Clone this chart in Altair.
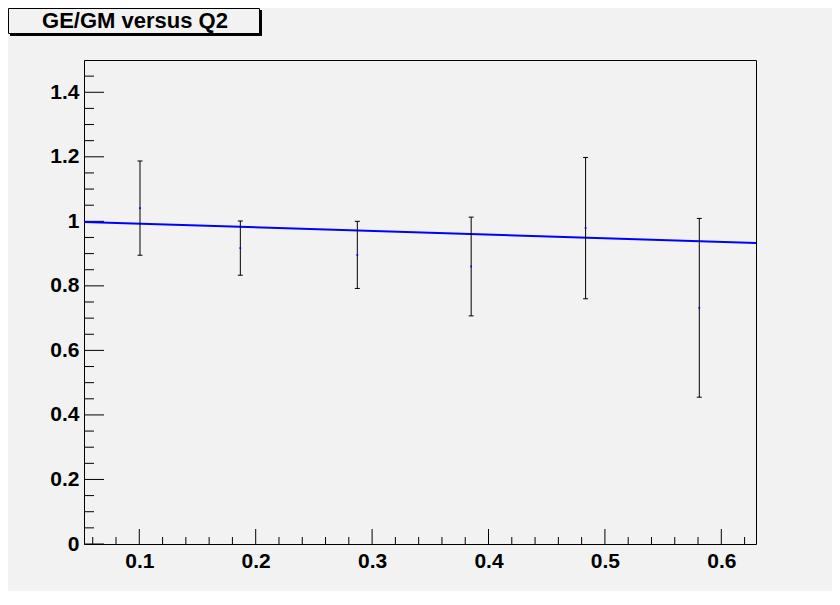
import altair as alt
import pandas as pd

# ---- data ----
q2 = [0.1006, 0.1868, 0.2873, 0.3851, 0.4834, 0.5811]
ratio = [1.041, 0.917, 0.896, 0.860, 0.979, 0.732]
err = [0.146, 0.084, 0.104, 0.153, 0.219, 0.277]

fit_q2 = [0.0525, 0.6298]
fit_ratio = [0.998, 0.933]

x_major = [0.1, 0.2, 0.3, 0.4, 0.5, 0.6]
x_minor = [0.06, 0.08, 0.12, 0.14, 0.16, 0.18, 0.22, 0.24, 0.26, 0.28,
           0.32, 0.34, 0.36, 0.38, 0.42, 0.44, 0.46, 0.48, 0.52, 0.54,
           0.56, 0.58, 0.62]
y_major = [0, 0.2, 0.4, 0.6, 0.8, 1.0, 1.2, 1.4]
y_minor = [0.05, 0.1, 0.15, 0.25, 0.3, 0.35, 0.45, 0.5, 0.55, 0.65, 0.7,
           0.75, 0.85, 0.9, 0.95, 1.05, 1.1, 1.15, 1.25, 1.3, 1.35, 1.45]

title_text = "GE/GM versus Q2"

# ---- layout ----
W, H = 672, 484
PAD = {"left": 76, "top": 52, "right": 76, "bottom": 47}
FONT = "Liberation Sans"
BG = "#f2f2f2"

pts = pd.DataFrame({"q2": q2, "ratio": ratio, "err": err})
pts["lo"] = pts["ratio"] - pts["err"]
pts["hi"] = pts["ratio"] + pts["err"]
fit = pd.DataFrame({"q2": fit_q2, "ratio": fit_ratio})

xs = alt.Scale(domain=[0.0525, 0.6298], nice=False, zero=False)
ys = alt.Scale(domain=[0, 1.5], nice=False, zero=False)

XAX = alt.Axis(values=x_major, format="~g", title=None, ticks=False, tickSize=0,
               domain=False, grid=False, labelFont=FONT, labelFontSize=21,
               labelFontWeight="bold", labelColor="black", labelPadding=6)
YAX = alt.Axis(values=y_major, format="~g", title=None, ticks=False, tickSize=0,
               domain=False, grid=False, labelFont=FONT, labelFontSize=21,
               labelFontWeight="bold", labelColor="black", labelPadding=5)


def X(f):
    return alt.X(f, scale=xs, axis=XAX, title=None)


def Y(f):
    return alt.Y(f, scale=ys, axis=YAX, title=None)


base = alt.Chart(pts)


def xticks(vals, length):
    return alt.Chart(pd.DataFrame({"v": vals})).mark_rule(
        color="black", strokeWidth=1).encode(
        x=X("v:Q"), y=alt.value(H), y2=alt.value(H - length))


def yticks(vals, length):
    return alt.Chart(pd.DataFrame({"v": vals})).mark_rule(
        color="black", strokeWidth=1).encode(
        y=Y("v:Q"), x=alt.value(0), x2=alt.value(length))


fit_line = alt.Chart(fit).mark_line(color="#0000ff", strokeWidth=2, clip=True).encode(
    x=X("q2:Q"), y=Y("ratio:Q"))

bars = base.mark_rule(color="black", strokeWidth=1).encode(
    x=X("q2:Q"), y=Y("lo:Q"), y2="hi:Q")

cap_hi = base.mark_rule(color="black", strokeWidth=1, xOffset=-2.5, x2Offset=2.5).encode(
    x=X("q2:Q"), x2="q2:Q", y=Y("hi:Q"))
cap_lo = base.mark_rule(color="black", strokeWidth=1, xOffset=-2.5, x2Offset=2.5).encode(
    x=X("q2:Q"), x2="q2:Q", y=Y("lo:Q"))

markers = base.mark_point(shape="square", filled=True, size=3, color="#0000ff",
                          opacity=1).encode(x=X("q2:Q"), y=Y("ratio:Q"))

one = alt.Data(values=[{"a": 1}])

# title box with shadow
box_shadow = alt.Chart(one).mark_rect(color="black").encode(
    x=alt.value(-74), x2=alt.value(178), y=alt.value(-50), y2=alt.value(-24))
box = alt.Chart(one).mark_rect(fill=BG, stroke="black", strokeWidth=1).encode(
    x=alt.value(-75.5), x2=alt.value(175.5), y=alt.value(-51.5), y2=alt.value(-26.5))
box_text = alt.Chart(one).mark_text(
    text=title_text, font=FONT, fontSize=22, fontWeight="bold", color="black",
    align="center", baseline="alphabetic").encode(
    x=alt.value(51), y=alt.value(-32.5))

chart = alt.layer(
    xticks(x_minor, 7), xticks(x_major, 15),
    yticks(y_minor, 10), yticks(y_major, 20),
    fit_line, bars, cap_hi, cap_lo, markers,
    box_shadow, box, box_text,
).properties(
    width=W, height=H, padding=PAD,
    autosize=alt.AutoSizeParams(type="none"),
    background=BG,
).configure_view(stroke="black", strokeWidth=1, fill=BG)

chart.save("out.html", embed_options={"renderer": "svg", "actions": False})
